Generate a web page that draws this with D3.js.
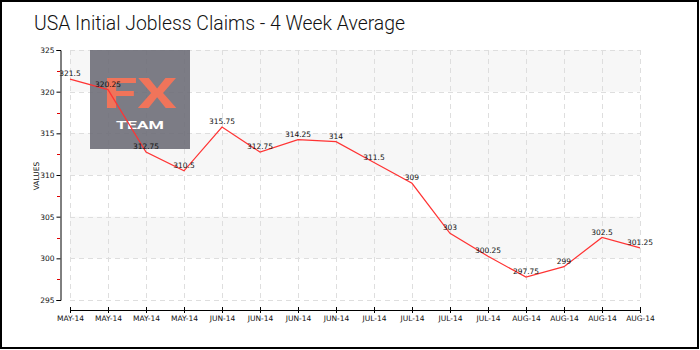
<!DOCTYPE html>
<html>
<head>
<meta charset="utf-8">
<script src="https://cdn.jsdelivr.net/npm/d3@7/dist/d3.min.js"></script>
<style>
  html, body { margin: 0; padding: 0; background: #fff; }
  svg { display: block; }
  .small { font-family: "DejaVu Sans", sans-serif; font-size: 7.5px; fill: #111; }
</style>
</head>
<body>
<svg id="chart" width="700" height="350"></svg>
<script>
// Weekly four-week average of US initial jobless claims (thousands)
const categories = ["MAY-14","MAY-14","MAY-14","MAY-14","JUN-14","JUN-14","JUN-14","JUN-14",
                    "JUL-14","JUL-14","JUL-14","JUL-14","AUG-14","AUG-14","AUG-14","AUG-14"];
const values = [321.5, 320.25, 312.75, 310.5, 315.75, 312.75, 314.25, 314,
                311.5, 309, 303, 300.25, 297.75, 299, 302.5, 301.25];
const yTicks = [295, 300, 305, 310, 315, 320, 325];
const yMinorTicks = [297.5, 302.5, 307.5, 312.5, 317.5, 322.5];
const title = "USA Initial Jobless Claims - 4 Week Average";
const yTitle = "VALUES";

const W = 700, H = 350;
const plot = { left: 70, right: 640, top: 50, bottom: 300 };

const svg = d3.select("#chart");

// outer frame
svg.append("rect").attr("x", 1).attr("y", 1).attr("width", W - 3).attr("height", H - 3)
  .attr("fill", "#fff").attr("stroke", "#000").attr("stroke-width", 2);

// title
svg.append("text").attr("x", 34).attr("y", 30)
  .attr("font-family", "Roboto, sans-serif").attr("font-weight", 300)
  .attr("font-size", 20.5).attr("fill", "#111")
  .attr("textLength", 371).attr("lengthAdjust", "spacingAndGlyphs")
  .text(title);

const idx = d3.range(values.length);
const x = d3.scalePoint().domain(idx).range([plot.left, plot.right]);
const y = d3.scaleLinear().domain([295, 325]).range([plot.bottom, plot.top]);

// alternating bands (shaded from the top band down)
const bands = d3.pairs(yTicks).filter((d, i) => i % 2 === 1);
svg.append("g").selectAll("rect").data(bands).join("rect")
  .attr("x", plot.left).attr("width", plot.right - plot.left)
  .attr("y", d => y(d[1])).attr("height", d => y(d[0]) - y(d[1]))
  .attr("fill", "#f7f7f7");

// grid
const grid = svg.append("g").attr("stroke", "#dedede").attr("stroke-width", 1)
  .attr("stroke-dasharray", "5,4");
grid.selectAll("line.h").data(yTicks).join("line").attr("class", "h")
  .attr("x1", plot.left).attr("x2", plot.right)
  .attr("y1", d => Math.round(y(d)) + 0.5).attr("y2", d => Math.round(y(d)) + 0.5);
grid.selectAll("line.v").data(idx).join("line").attr("class", "v")
  .attr("x1", d => Math.round(x(d)) + 0.5).attr("x2", d => Math.round(x(d)) + 0.5)
  .attr("y1", plot.top).attr("y2", plot.bottom);

// watermark
const wm = svg.append("g");
wm.append("rect").attr("x", 90).attr("y", 50).attr("width", 100).attr("height", 99)
  .attr("fill", "#6e6e78").attr("opacity", 0.9);
wm.append("text").attr("x", 140).attr("y", 108).attr("text-anchor", "middle")
  .attr("font-family", "Roboto, sans-serif").attr("font-weight", 700)
  .attr("font-size", 42).attr("fill", "#f0745a")
  .attr("textLength", 74).attr("lengthAdjust", "spacingAndGlyphs").text("FX");
wm.append("text").attr("x", 140).attr("y", 129).attr("text-anchor", "middle")
  .attr("font-family", "Roboto, sans-serif").attr("font-weight", 700)
  .attr("font-size", 11).attr("fill", "#ffffff")
  .attr("textLength", 48).attr("lengthAdjust", "spacingAndGlyphs").text("TEAM");

// y axis
const yAxis = svg.append("g").attr("transform", "translate(60.5,0)")
  .call(d3.axisLeft(y).tickValues(yTicks).tickSize(4).tickPadding(2));
yAxis.select(".domain").attr("stroke", "#000");
yAxis.selectAll("text").attr("class", "small").attr("font-size", null).attr("font-family", null);
svg.append("g").selectAll("line").data(yMinorTicks).join("line")
  .attr("x1", 57).attr("x2", 60).attr("y1", d => Math.round(y(d)) + 0.5).attr("y2", d => Math.round(y(d)) + 0.5)
  .attr("stroke", "#e00000");

svg.append("text").attr("class", "small")
  .attr("transform", `translate(39,${(plot.top + plot.bottom) / 2 + 1}) rotate(-90)`)
  .attr("text-anchor", "middle").text(yTitle);

// x axis
const xAxis = svg.append("g").attr("transform", "translate(0,310)")
  .call(d3.axisBottom(x).tickFormat(i => categories[i]).tickSizeInner(3).tickSizeOuter(0).tickPadding(3));
xAxis.selectAll(".tick line").attr("y1", -3).attr("y2", 3);
xAxis.select(".domain").attr("stroke", "#000");
xAxis.selectAll("text").attr("class", "small").attr("font-size", null).attr("font-family", null);

// series line
svg.append("path").datum(idx)
  .attr("fill", "none").attr("stroke", "#ff3333").attr("stroke-width", 1.2)
  .attr("d", d3.line().x(i => x(i)).y(i => y(values[i])));

// value labels
svg.append("g").selectAll("text").data(idx).join("text")
  .attr("class", "small").attr("text-anchor", "middle")
  .attr("x", i => x(i)).attr("y", i => y(values[i]) - 3)
  .text(i => values[i]);
</script>
</body>
</html>
